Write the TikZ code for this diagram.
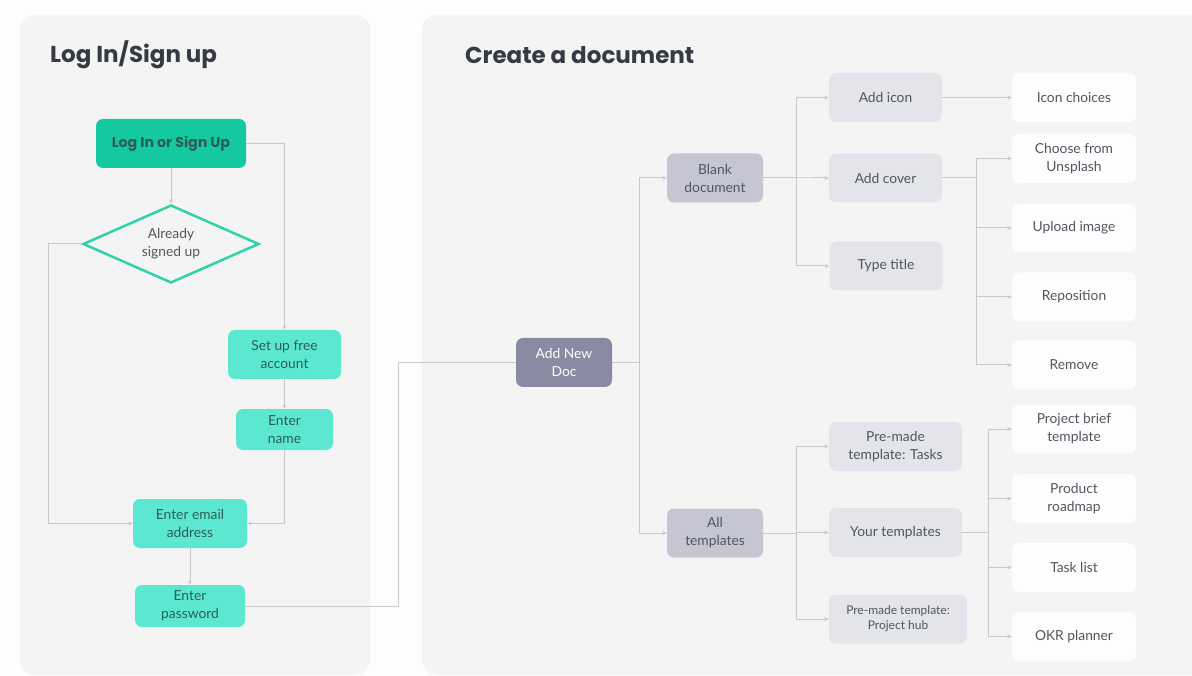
\documentclass[tikz,border=0pt]{standalone}
\usepackage{fontspec}
\setmainfont{Lato}
\newfontfamily\headfont{Poppins}
\usetikzlibrary{arrows.meta,shapes.geometric}
\definecolor{pagebg}{HTML}{FDFDFD}
\definecolor{panelbg}{HTML}{F4F4F5}
\definecolor{headtxt}{HTML}{353A45}
\definecolor{boxtxt}{HTML}{52565F}
\definecolor{tealtxt}{HTML}{2C5E57}
\definecolor{tealdark}{HTML}{14C9A0}
\definecolor{teallight}{HTML}{5CE8D0}
\definecolor{tealline}{HTML}{2FD2A9}
\definecolor{rootfill}{HTML}{8A8AA2}
\definecolor{lvlone}{HTML}{C6C6D2}
\definecolor{lvltwo}{HTML}{E4E4EB}
\definecolor{lvlthree}{HTML}{FDFDFD}
\definecolor{linegray}{HTML}{C8C8CE}

\begin{document}
\begin{tikzpicture}[x=1pt,y=-1pt,
		box/.style={rounded corners=7pt,align=center,inner sep=2pt,text=boxtxt,
			font=\fontsize{13.8}{18}\selectfont},
		teal/.style={box,fill=teallight,text=tealtxt},
		docbox/.style={box,minimum width=96pt,minimum height=49pt},
		midbox/.style={box,fill=lvltwo,minimum width=113pt,minimum height=49pt},
		leafbox/.style={box,fill=lvlthree,minimum width=124pt,minimum height=49pt},
		heading/.style={anchor=west,inner sep=0pt,text=headtxt,
			font=\headfont\bfseries\fontsize{23}{27}\selectfont},
		link/.style={draw=linegray,line width=1pt,-{Stealth[length=4.5pt,width=4pt]}},
		line/.style={draw=linegray,line width=1pt}]
	\useasboundingbox (0,0) rectangle (1192,676);
	\fill[pagebg] (0,0) rectangle (1192,676);
	% panels
	\fill[panelbg,rounded corners=15pt] (20,15) rectangle (370,675);
	\fill[panelbg,rounded corners=15pt] (422,15) rectangle (1215,675);
	\node[heading] (lefthead) at (50,55) {Log In/Sign up};
	\node[heading] (righthead) at (465,55) {Create a document};

	% log in / sign up flow
	\node[box,fill=tealdark,text=tealtxt,minimum width=150pt,minimum height=49pt,
		font=\headfont\bfseries\fontsize{14.2}{17}\selectfont] (login) at (171,143.5) {Log In or Sign Up};
	\node[diamond,draw=tealline,line width=2.5pt,aspect=2.25,inner sep=0pt,
		minimum width=176pt,minimum height=78pt,align=center,text=boxtxt,
		font=\fontsize{13.8}{18}\selectfont] (signed) at (171,244) {Already\\signed up};
	\node[teal,minimum width=113pt,minimum height=49pt] (setup) at (284.5,354.5) {Set up free\\account};
	\node[teal,minimum width=97pt,minimum height=41pt] (name) at (284.5,429.5) {Enter\\name};
	\node[teal,minimum width=114pt,minimum height=49pt] (email) at (190,523.5) {Enter email\\address};
	\node[teal,minimum width=110pt,minimum height=42pt] (pass) at (190,606) {Enter\\password};

	\draw[link] (login.east) -| (setup.north);
	\draw[link] (login.south) -- (signed.north);
	\draw[link] (signed.west) -- ++(-33,0) |- (email.west);
	\draw[link] (setup.south) -- (name.north);
	\draw[link] (name.south) |- (email.east);
	\draw[link] (email.south) -- (pass.north);

	% create a document tree
	\node[docbox,fill=rootfill,text=white] (newdoc) at (564,362.5) {Add New\\Doc};
	\node[docbox,fill=lvlone] (blank) at (715,178) {Blank\\document};
	\node[docbox,fill=lvlone] (alltpl) at (715,533) {All\\templates};

	\node[midbox] (icon) at (885.5,97.5) {Add icon};
	\node[midbox] (cover) at (885.5,178) {Add cover};
	\node[midbox] (title) at (886,266) {Type title};
	\node[midbox,minimum width=133pt] (tasks) at (895.5,446.5) {Pre-made\\template: Tasks};
	\node[midbox,minimum width=133pt] (yourtpl) at (895.5,532.5) {Your templates};
	\node[midbox,minimum width=138pt,font=\fontsize{12}{15}\selectfont] (hub) at (898,619) {Pre-made template:\\Project hub};

	\node[leafbox] (choices) at (1074,97.5) {Icon choices};
	\node[leafbox] (unsplash) at (1074,158.5) {Choose from\\Unsplash};
	\node[leafbox] (upload) at (1074,228) {Upload image};
	\node[leafbox] (repos) at (1074,297) {Reposition};
	\node[leafbox] (remove) at (1074,365) {Remove};
	\node[leafbox] (brief) at (1074,429) {Project brief\\template};
	\node[leafbox] (roadmap) at (1074,498.5) {Product\\roadmap};
	\node[leafbox] (tasklist) at (1074,567.5) {Task list};
	\node[leafbox] (okr) at (1074,636.5) {OKR planner};

	\draw[line] (pass.east) -- ++(153,0) |- (newdoc.west);
	\foreach \n in {blank,alltpl}
		\draw[link] (newdoc.east) -- ++(27,0) |- (\n.west);
	\foreach \n in {icon,cover,title}
		\draw[link] (blank.east) -- ++(33,0) |- (\n.west);
	\foreach \n in {tasks,yourtpl,hub}
		\draw[link] (alltpl.east) -- ++(33,0) |- (\n.west);
	\draw[link] (icon.east) -- (choices.west);
	\foreach \n in {unsplash,upload,repos,remove}
		\draw[link] (cover.east) -- ++(34,0) |- (\n.west);
	\foreach \n in {brief,roadmap,tasklist,okr}
		\draw[link] (yourtpl.east) -- ++(26,0) |- (\n.west);
\end{tikzpicture}
\end{document}
